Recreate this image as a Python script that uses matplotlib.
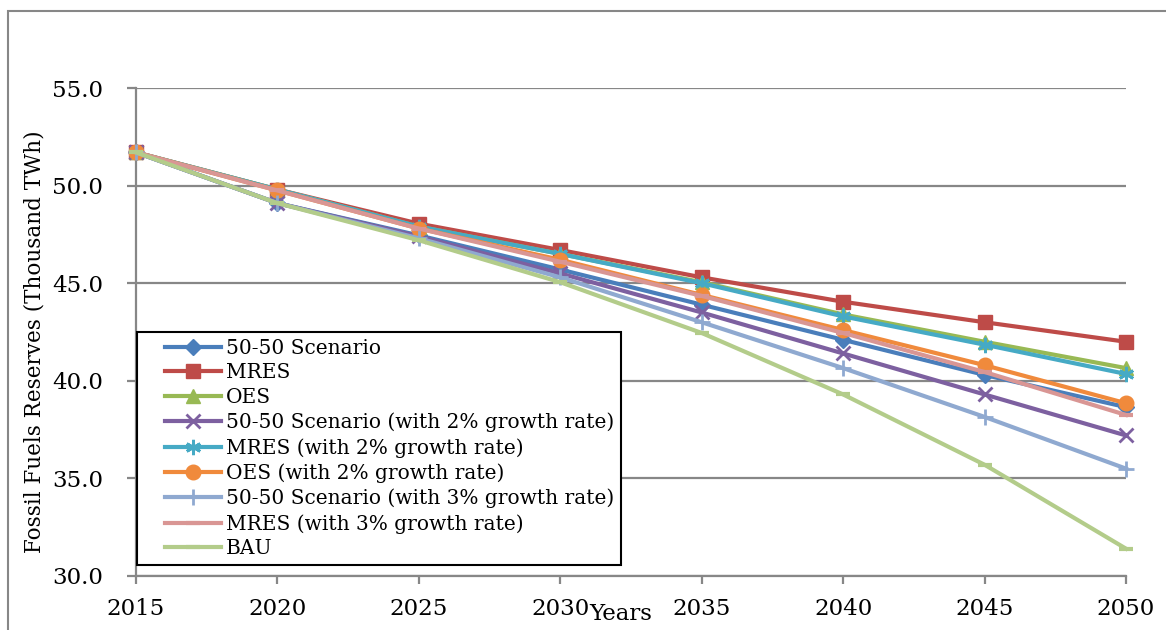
import matplotlib
matplotlib.use("Agg")
import matplotlib.pyplot as plt
from matplotlib.legend_handler import HandlerLine2D
from matplotlib.lines import Line2D
from matplotlib.patches import Rectangle

years = [2015, 2020, 2025, 2030, 2035, 2040, 2045, 2050]

fifty = [51.7, 49.1, 47.45, 45.7, 43.9, 42.1, 40.3, 38.65]
mres = [51.7, 49.8, 48.05, 46.7, 45.3, 44.05, 43.0, 42.0]
oes = [51.7, 49.8, 47.9, 46.5, 45.05, 43.4, 42.0, 40.65]
fifty_2 = [51.7, 49.1, 47.4, 45.5, 43.5, 41.4, 39.3, 37.2]
mres_2 = [51.7, 49.8, 47.9, 46.5, 45.0, 43.3, 41.85, 40.35]
oes_2 = [51.7, 49.75, 47.8, 46.2, 44.4, 42.6, 40.8, 38.85]
fifty_3 = [51.7, 49.1, 47.3, 45.3, 43.0, 40.65, 38.15, 35.5]
mres_3 = [51.7, 49.75, 47.8, 46.1, 44.35, 42.45, 40.45, 38.25]
bau = [51.7, 49.1, 47.2, 45.05, 42.45, 39.3, 35.7, 31.4]

labels = [
    "50-50 Scenario",
    "MRES",
    "OES",
    "50-50 Scenario (with 2% growth rate)",
    "MRES (with 2% growth rate)",
    "OES (with 2% growth rate)",
    "50-50 Scenario (with 3% growth rate)",
    "MRES (with 3% growth rate)",
    "BAU",
]
series = [fifty, mres, oes, fifty_2, mres_2, oes_2, fifty_3, mres_3, bau]

# (colour, marker, marker size, marker edge width)
styles = [
    ("#4a7ebb", "D", 8.5, 1),
    ("#be4b48", "s", 10.5, 1),
    ("#98b954", "^", 10.5, 1),
    ("#7d60a0", "x", 10, 2),
    ("#46aac5", (6, 2, 0), 11, 2),
    ("#f08a3c", "o", 10.5, 1),
    ("#8fa9d0", "+", 11, 2),
    ("#d99694", "_", 10, 3),
    ("#b3cc8a", "_", 10, 3),
]

plt.rcParams["font.family"] = ["DejaVu Serif"]
grey = "#878787"

fig = plt.figure(figsize=(11.66, 6.3), dpi=100)
ax = fig.add_axes([136 / 1166, 54 / 630, 990 / 1166, 488 / 630])

for vals, lab, (col, mk, ms, mew) in zip(series, labels, styles):
    ax.plot(years, vals, color=col, lw=3, marker=mk, markersize=ms,
            markeredgewidth=mew, markeredgecolor=col, markerfacecolor=col,
            label=lab, clip_on=False, zorder=3)

ax.set_xlim(2015, 2050)
ax.set_ylim(30, 55)
ax.set_xticks(years)
ax.set_yticks([30, 35, 40, 45, 50, 55])
ax.set_yticklabels([f"{v:.1f}" for v in [30, 35, 40, 45, 50, 55]])
ax.yaxis.grid(True, color=grey, lw=1.6)
ax.set_axisbelow(True)

for side in ("top", "right"):
    ax.spines[side].set_visible(False)
for side in ("left", "bottom"):
    ax.spines[side].set_color(grey)
    ax.spines[side].set_linewidth(1.6)

ax.tick_params(axis="x", direction="out", length=6, width=1.6, color=grey,
               labelsize=16.5, pad=10)
ax.tick_params(axis="y", direction="out", length=6.5, width=1.6, color=grey,
               labelsize=16.5, pad=17)

leg = ax.legend(
    loc="lower left", bbox_to_anchor=(0.001, 0.022), borderaxespad=0,
    fontsize=14.5, frameon=True, fancybox=False, framealpha=1,
    edgecolor="black", borderpad=0.35, labelspacing=0.28,
    handlelength=3.8, handletextpad=0.25, numpoints=1,
    handler_map={Line2D: HandlerLine2D(xpad=1.05)},
)
leg.get_frame().set_linewidth(1.5)
leg.set_zorder(5)

fig.text(35 / 1166, 1 - 342 / 630, "Fossil Fuels Reserves (Thousand TWh)",
         rotation=90, ha="center", va="center", fontsize=15.5)
fig.text(621 / 1166, 1 - 614 / 630, "Years", ha="center", va="center",
         fontsize=16.5)

# chart area border
fig.add_artist(Rectangle((8 / 1166, -0.1), 1.2, 1.1 - 11 / 630,
                         transform=fig.transFigure, fill=False,
                         edgecolor=grey, lw=1.5))

fig.savefig("out.png", dpi=100)
